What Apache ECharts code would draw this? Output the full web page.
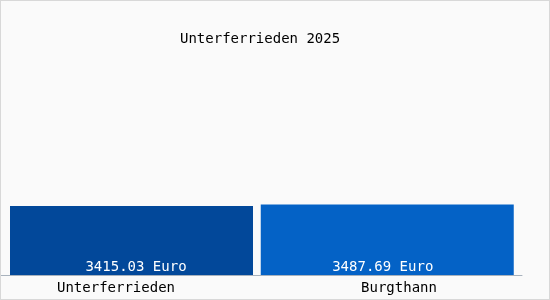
<!DOCTYPE html>
<html>
<head>
<meta charset="utf-8">
<script src="https://cdn.jsdelivr.net/npm/echarts@6/dist/echarts.min.js"></script>
<style>
html,body{margin:0;padding:0;background:#fafafa;}
#c{position:absolute;left:0;top:0;width:550px;height:300px;}
#b{position:absolute;left:0;top:0;width:550px;height:300px;box-sizing:border-box;border:1px solid #d8d8d8;pointer-events:none;}
</style>
</head>
<body>
<div id="c"></div>
<div id="b"></div>
<script>
const titleText = 'Unterferrieden 2025';
const categories = ['Unterferrieden', 'Burgthann'];
const values = [3415.03, 3487.69];
const unit = 'Euro';
const colors = ['#02489a', '#0462c6'];

const font = 'DejaVu Sans Mono';
const fmt = function (p) { return p.value.toFixed(2) + ' ' + unit; };
const chart = echarts.init(document.getElementById('c'));
chart.setOption({
  backgroundColor: '#fafafa',
  animation: false,
  title: {
    text: titleText, left: 175, top: 27,
    textStyle: {fontFamily: font, fontSize: 14, fontWeight: 'normal', color: '#000'}
  },
  grid: [
    {left: 2.5, width: 516, top: 60, bottom: 25},
    {left: 1, width: 515, top: 60, bottom: 25},
    {left: 0, right: 28, top: 60, bottom: 25}
  ],
  xAxis: [
    {type: 'category', data: categories, gridIndex: 0, show: false},
    {type: 'category', data: categories, gridIndex: 1, show: false},
    {type: 'category', data: categories, gridIndex: 2,
     axisLine: {lineStyle: {color: '#a8b2bd', width: 1}},
     axisTick: {show: false},
     axisLabel: {
       margin: 6,
       formatter: function (v, i) { return '{l' + i + '|' + v + '}'; },
       rich: {
         l0: {fontFamily: font, fontSize: 14, color: '#000', padding: [0, 29, 0, 0]},
         l1: {fontFamily: font, fontSize: 14, color: '#000', padding: [0, 0, 0, 15]}
       }
     }}
  ],
  yAxis: [
    {type: 'value', min: 0, max: 10640, gridIndex: 0, show: false},
    {type: 'value', min: 0, max: 10640, gridIndex: 1, show: false},
    {type: 'value', min: 0, max: 10640, gridIndex: 2, show: false}
  ],
  series: [
    {
      type: 'bar', xAxisIndex: 0, yAxisIndex: 0,
      data: [values[0], null], barWidth: 243,
      itemStyle: {color: colors[0]},
      label: {show: true, position: 'insideBottom', distance: 1, offset: [4.5, 0], color: '#fff',
        fontFamily: font, fontSize: 14, formatter: fmt}
    },
    {
      type: 'bar', xAxisIndex: 1, yAxisIndex: 1,
      data: [null, values[1]], barWidth: 253,
      itemStyle: {color: colors[1]},
      label: {show: true, position: 'insideBottom', distance: 1, offset: [-4.5, 0], color: '#fff',
        fontFamily: font, fontSize: 14, formatter: fmt}
    }
  ]
});
</script>
</body>
</html>
